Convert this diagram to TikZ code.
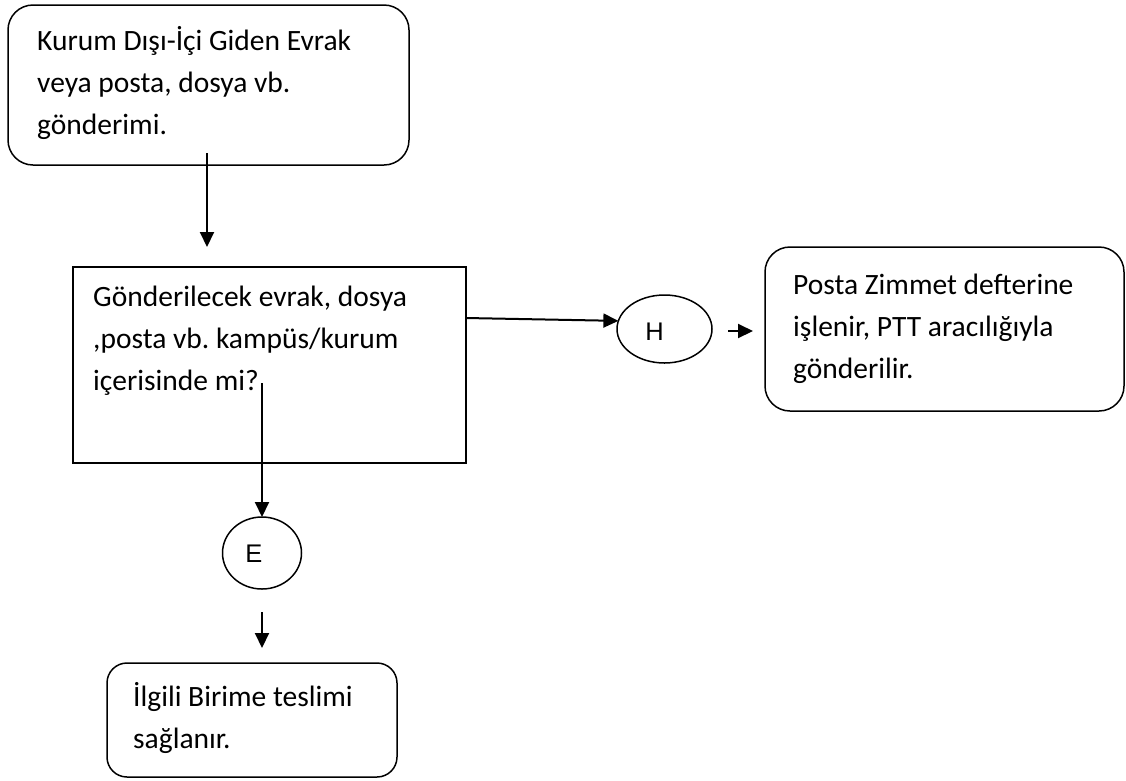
\documentclass[tikz,border=0pt]{standalone}
\usepackage{fontspec}
\setmainfont{Carlito}
\newfontfamily\arialfont{Liberation Sans}
\usetikzlibrary{arrows.meta,shapes.geometric}
\frenchspacing
\begin{document}
\begin{tikzpicture}[x=1pt,y=-1pt,
  box/.style={draw, line width=1.5pt, inner sep=0pt, outer sep=0pt},
  roundbox/.style={box, rounded corners=25pt},
  oval/.style={draw, ellipse, line width=1.5pt, inner sep=0pt, outer sep=0pt},
  txt/.style={anchor=north west, inner sep=0pt, align=left, font=\frenchspacing\fontsize{29.5}{42}\selectfont},
  letter/.style={inner sep=0pt, font=\arialfont\fontsize{25.5}{30}\selectfont},
  arr/.style={line width=2pt, -{Triangle[length=15pt,width=14pt]}}
]
\useasboundingbox (0,0) rectangle (1126,780);

% boxes
\node[roundbox, minimum width=401pt, minimum height=160pt] (b1) at (208.5,85) {};
\node[box, minimum width=393pt, minimum height=196pt] (b2) at (269.5,365) {};
\node[roundbox, minimum width=359pt, minimum height=164pt] (b3) at (944.5,329) {};
\node[box, rounded corners=20pt, minimum width=290pt, minimum height=114pt] (b4) at (252,720) {};
\node[oval, minimum width=95pt, minimum height=68pt] (H) at (664.5,329) {};
\node[oval, minimum width=79pt, minimum height=72pt] (E) at (262,553) {};

% texts
\node[txt] (t1) at (37,20.6) {\strut Kurum Dışı-İçi Giden Evrak\\veya posta, dosya vb.\\gönderimi.};
\node[txt] (t2) at (93,276.6) {\strut Gönderilecek evrak, dosya\\,posta vb. kampüs/kurum\\içerisinde mi?};
\node[txt] (t3) at (793,264.6) {\strut Posta Zimmet defterine\\işlenir, PTT aracılığıyla\\gönderilir.};
\node[txt] (t4) at (133,676.6) {\strut İlgili Birime teslimi\\sağlanır.};
\node[letter] (Hl) at (654.5,332) {H};
\node[letter] (El) at (254,554) {E};

% connector end points
\coordinate (a1s) at (207,153);
\coordinate (a1e) at (207,247);
\coordinate (a2s) at (b2.east |- 0,318);
\coordinate (a3s) at (262,383);
\coordinate (a4s) at (728,331);
\coordinate (a4e) at (753,331);
\coordinate (a5s) at (262,612);
\coordinate (a5e) at (262,648);

% connectors
\draw[arr] (a1s) -- (a1e);
\draw[arr] (a2s) -- (H.170);
\draw[arr] (a3s) -- (E.north);
\draw[arr] (a4s) -- (a4e);
\draw[arr] (a5s) -- (a5e);
\end{tikzpicture}
\end{document}
